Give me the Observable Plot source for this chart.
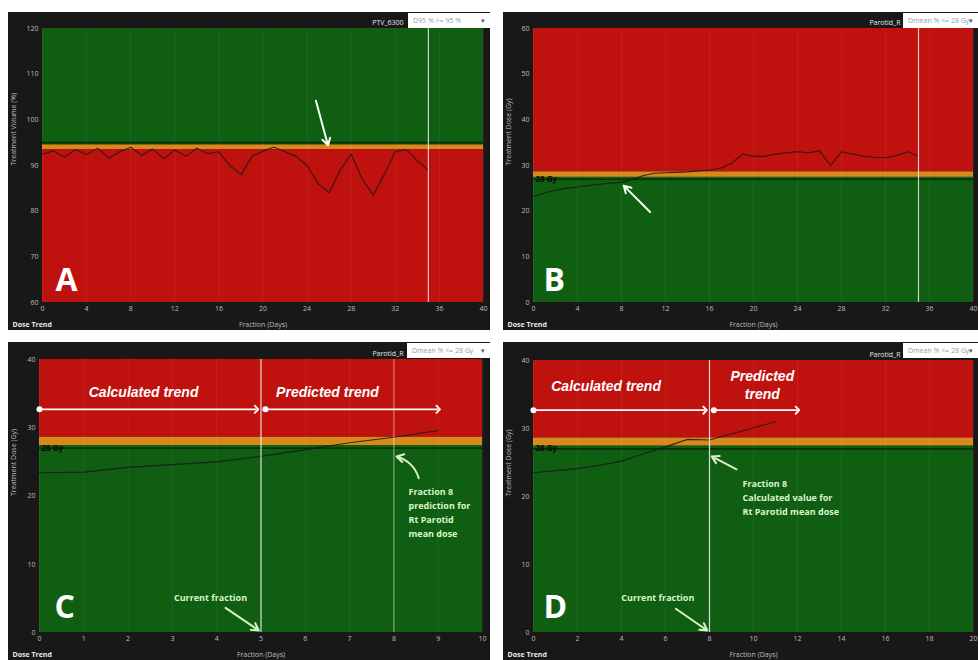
<!DOCTYPE html>
<html><head><meta charset="utf-8">
<script src="https://cdn.jsdelivr.net/npm/d3@7"></script>
<script src="https://cdn.jsdelivr.net/npm/@observablehq/plot@0.6"></script>
<style>
body{margin:0;background:#fff;font-family:"Open Sans",sans-serif;}
#wrap{position:relative;width:978px;height:660px;overflow:hidden;background:#fff;}
.panel{position:absolute;background:#181818;overflow:hidden;}
.panel svg{display:block;}
.box{position:absolute;top:1px;height:15px;background:#fff;color:#8fa0ab;font-size:7px;line-height:15px;padding-left:5px;box-sizing:border-box;font-family:"Open Sans",sans-serif;}
.box span{position:absolute;right:5px;top:0;color:#555;font-size:7px;}
</style></head>
<body><div id="wrap"></div>
<script>
// ---------- data ----------
const fracA = [0,1,2,3,4,5,6,7,8,9,10,11,12,13,14,15,16,17,18,19,20,21,22,23,24,25,26,27,28,29,30,31,32,33,34,35];
const volA  = [92.5,93.2,91.8,93.5,92.4,93.8,91.6,93.0,94.0,92.2,93.6,91.5,93.4,92.0,93.8,92.6,93.0,90.0,88.0,92.0,93.2,94.0,93.0,92.0,90.0,86.0,84.0,89.0,92.5,87.0,83.5,88.0,93.0,93.5,91.0,89.0];
const fracB = [0,1,2,3,4,5,6,7,8,9,10,11,12,13,14,15,16,17,18,19,20,21,22,23,24,25,26,27,28,29,30,31,32,33,34,35];
const doseB = [23.2,24.0,24.6,25.0,25.3,25.6,25.9,26.1,26.3,27.0,27.8,28.3,28.4,28.5,28.6,28.8,29.0,29.4,30.5,32.5,32.0,32.0,32.5,32.8,33.0,32.8,33.2,30.0,33.0,32.5,32.0,31.8,31.7,32.2,33.0,32.0];
const fracC = [0,1,2,3,4,5,6,7,8,9];
const doseC = [23.4,23.5,24.2,24.6,25.0,25.8,26.8,27.8,28.6,29.6];
const fracD = [0,1,2,3,4,5,6,7,8,9,10,11];
const doseD = [23.5,23.8,24.1,24.6,25.2,26.3,27.3,28.4,28.3,29.2,30.1,31.0];

const ticksA = [0,4,8,12,16,20,24,28,32,36,40];
const ticksB = [0,4,8,12,16,20,24,28,32,36,40];
const ticksC = [0,1,2,3,4,5,6,7,8,9,10];
const ticksD = [0,2,4,6,8,10,12,14,16,18,20];
const yTicksA = [60,70,80,90,100,110,120];
const yTicksB = [0,10,20,30,40,50,60];
const yTicksCD = [0,10,20,30,40];

const GREEN = "#0f5e12", RED = "#bf110e", ORANGE = "#d8891c";
const bandsA = [{lo:94.5,hi:120,c:GREEN},{lo:93.5,hi:94.5,c:ORANGE},{lo:60,hi:93.5,c:RED}];
const bandsB = [{lo:28.6,hi:60,c:RED},{lo:27.4,hi:28.6,c:ORANGE},{lo:0,hi:27.4,c:GREEN}];
const bandsCD = [{lo:28.6,hi:40,c:RED},{lo:27.4,hi:28.6,c:ORANGE},{lo:0,hi:27.4,c:GREEN}];
const limitA = [95], limitB = [27.0], limitCD = [27.0];

const organA = "PTV_6300", organB = "Parotid_R";
const criterionA = "D95 % >= 95 %", criterionB = "Dmean % <= 28 Gy";

const vlinesA = [{x:35,o:0.8}];
const vlinesB = [{x:35,o:0.8}];
const vlinesC = [{x:5,o:0.85},{x:8,o:0.45}];
const vlinesD = [{x:8,o:0.85}];

const arrowsA = [{x1:24.8,y1:104.2,x2:25.9,y2:94.4}];
const arrowsB = [{x1:10.6,y1:19.8,x2:8.2,y2:25.6}];
const arrowsC = [{x1:4.2,y1:3.6,x2:4.95,y2:0.3}];
const bentC = [{x1:8.56,y1:22.6,x2:8.06,y2:25.8}];
const arrowsD = [{x1:6.47,y1:3.5,x2:7.9,y2:0.3},{x1:9.23,y1:24.0,x2:8.1,y2:25.9}];

const spansC = [{x1:0,x2:4.9,y:32.7},{x1:5.1,x2:9,y:32.7}];
const spansD = [{x1:0,x2:7.8,y:32.7},{x1:8.2,x2:12,y:32.7}];

const trendC = [{x:2.35,y:35.3,t:"Calculated trend"},{x:6.5,y:35.3,t:"Predicted trend"}];
const trendD = [{x:3.3,y:36.3,t:"Calculated trend"},{x:10.4,y:36.5,t:"Predicted\ntrend"}];
const currentC = [{x:3.86,y:5.1,t:"Current fraction"}];
const currentD = [{x:5.65,y:5.1,t:"Current fraction"}];
const noteC = [{x:8.33,y:21.6,t:"Fraction 8\nprediction for\nRt Parotid\nmean dose"}];
const noteD = [{x:9.5,y:22.9,t:"Fraction 8\nCalculated value for\nRt Parotid mean dose"}];

// ---------- panels ----------
const panels = [
  {id:"A", left:8, top:12, w:482, ml:34, mr:7, mt:16, frac:fracA, val:volA, xd:[0,40], xt:ticksA, yd:[60,120], yt:yTicksA,
   bands:bandsA, limit:limitA, organ:organA, crit:criterionA, ylab:"Treatment Volume (%)", vl:vlinesA, arrows:arrowsA, arrowColor:"#f4fff0",
   letterDx:13, letterDy:-12, showGy:false, boxLeft:400, orgDx:-80},
  {id:"B", left:503, top:12, w:475, ml:30, mr:5, mt:16, frac:fracB, val:doseB, xd:[0,40], xt:ticksB, yd:[0,60], yt:yTicksB,
   bands:bandsB, limit:limitB, organ:organB, crit:criterionB, ylab:"Treatment Dose (Gy)", vl:vlinesB, arrows:arrowsB, arrowColor:"#f4fff0",
   letterDx:10, letterDy:-12, showGy:true, boxLeft:400, orgDx:-73},
  {id:"C", left:8, top:342, w:482, ml:31, mr:8, mt:17, frac:fracC, val:doseC, xd:[0,10], xt:ticksC, yd:[0,40], yt:yTicksCD,
   bands:bandsCD, limit:limitCD, organ:organB, crit:criterionB, ylab:"Treatment Dose (Gy)", vl:vlinesC, arrows:arrowsC, arrowColor:"#d8f3c8",
   bent:bentC, spans:spansC, trend:trendC, current:currentC, note:noteC,
   letterDx:15, letterDy:-15, showGy:true, boxLeft:399, orgDx:-79},
  {id:"D", left:503, top:342, w:475, ml:30, mr:5, mt:18, frac:fracD, val:doseD, xd:[0,20], xt:ticksD, yd:[0,40], yt:yTicksCD,
   bands:bandsCD, limit:limitCD, organ:organB, crit:criterionB, ylab:"Treatment Dose (Gy)", vl:vlinesD, arrows:arrowsD, arrowColor:"#d8f3c8",
   spans:spansD, trend:trendD, current:currentD, note:noteD,
   letterDx:10, letterDy:-15, showGy:true, boxLeft:400, orgDx:-73}
];

const wrap = document.getElementById("wrap");
const H = 318, MB = 28;
const NOTE = "#dcf5cc";

for (const p of panels) {
  const rows = p.frac.map((f,i)=>({f, v:p.val[i]}));
  const marks = [
    Plot.rect(p.bands, {y1:"lo", y2:"hi", fill:"c"}),
    Plot.ruleX(p.xt, {stroke:"#fff", strokeOpacity:0.06}),
    Plot.ruleY(p.limit, {stroke:"#062e07", strokeWidth:1.6, strokeOpacity:0.9}),
    Plot.line(rows, {x:"f", y:"v", stroke:"#1a1a1a", strokeWidth:1.1, strokeOpacity:0.85}),
    Plot.ruleX(p.vl, {x:"x", stroke:"#f4f4f4", strokeOpacity:"o", strokeWidth:1.2}),
    Plot.arrow(p.arrows, {x1:"x1",y1:"y1",x2:"x2",y2:"y2", stroke:p.arrowColor, strokeWidth:2, headLength:6}),
    Plot.text([p.id], {frameAnchor:"bottom-left", dx:p.letterDx, dy:p.letterDy, textAnchor:"start", lineAnchor:"bottom",
      fill:"#fff", fontSize:32, fontWeight:"bold", fontFamily:"Open Sans"}),
    Plot.text(["Dose Trend"], {frameAnchor:"bottom-left", dx:8-p.ml-4, dy:24, textAnchor:"start", fill:"#e8e8e8", fontSize:7, fontWeight:"bold"}),
    Plot.text(["Fraction (Days)"], {frameAnchor:"bottom", dy:24, fill:"#bdbdbd", fontSize:7}),
    Plot.text([p.ylab], {frameAnchor:"left", dx:5-p.ml, rotate:-90, fill:"#bdbdbd", fontSize:7}),
    Plot.text([p.organ], {frameAnchor:"top-right", dx:p.orgDx, dy:-8, textAnchor:"end", fill:"#e6e6e6", fontSize:7})
  ];
  if (p.showGy) marks.push(Plot.text(["28 Gy"], {frameAnchor:"left", x:null, y:()=>p.limit[0], dx:2, textAnchor:"start", fill:"#0b0b0b", fontSize:8, fontWeight:"bold"}));
  if (p.bent) marks.push(Plot.arrow(p.bent, {x1:"x1",y1:"y1",x2:"x2",y2:"y2", bend:-30, stroke:p.arrowColor, strokeWidth:2, headLength:6}));
  if (p.spans) marks.push(Plot.link(p.spans, {x1:"x1", x2:"x2", y1:"y", y2:"y", stroke:"#fff", strokeWidth:1.8, markerStart:"dot", markerEnd:"arrow"}));
  if (p.trend) marks.push(Plot.text(p.trend, {x:"x", y:"y", text:"t", fill:"#fff", fontSize:14, fontWeight:"bold", fontStyle:"italic", fontFamily:"Liberation Sans", lineHeight:1.25}));
  if (p.current) marks.push(Plot.text(p.current, {x:"x", y:"y", text:"t", fill:NOTE, fontSize:9, fontWeight:"bold"}));
  if (p.note) marks.push(Plot.text(p.note, {x:"x", y:"y", text:"t", fill:NOTE, fontSize:9, fontWeight:"bold", textAnchor:"start", lineAnchor:"top", lineHeight:1.55}));

  const chart = Plot.plot({
    width: p.w, height: H,
    marginLeft: p.ml, marginRight: p.mr, marginTop: p.mt, marginBottom: MB,
    style: {background:"#181818", color:"#bdbdbd", fontSize:"7px", fontFamily:"Open Sans"},
    x: {domain:p.xd, ticks:p.xt, tickSize:0, tickPadding:4, label:null},
    y: {domain:p.yd, ticks:p.yt, tickSize:0, tickPadding:4, label:null},
    marks
  });
  const div = document.createElement("div");
  div.className = "panel";
  div.style.left = p.left + "px"; div.style.top = p.top + "px";
  div.style.width = p.w + "px"; div.style.height = H + "px";
  div.appendChild(chart);
  const box = document.createElement("div");
  box.className = "box";
  box.style.left = p.boxLeft + "px";
  box.style.width = (p.w - p.boxLeft) + "px";
  box.textContent = p.crit;
  const caret = document.createElement("span");
  caret.textContent = "▾";
  box.appendChild(caret);
  div.appendChild(box);
  wrap.appendChild(div);
}
</script></body></html>
